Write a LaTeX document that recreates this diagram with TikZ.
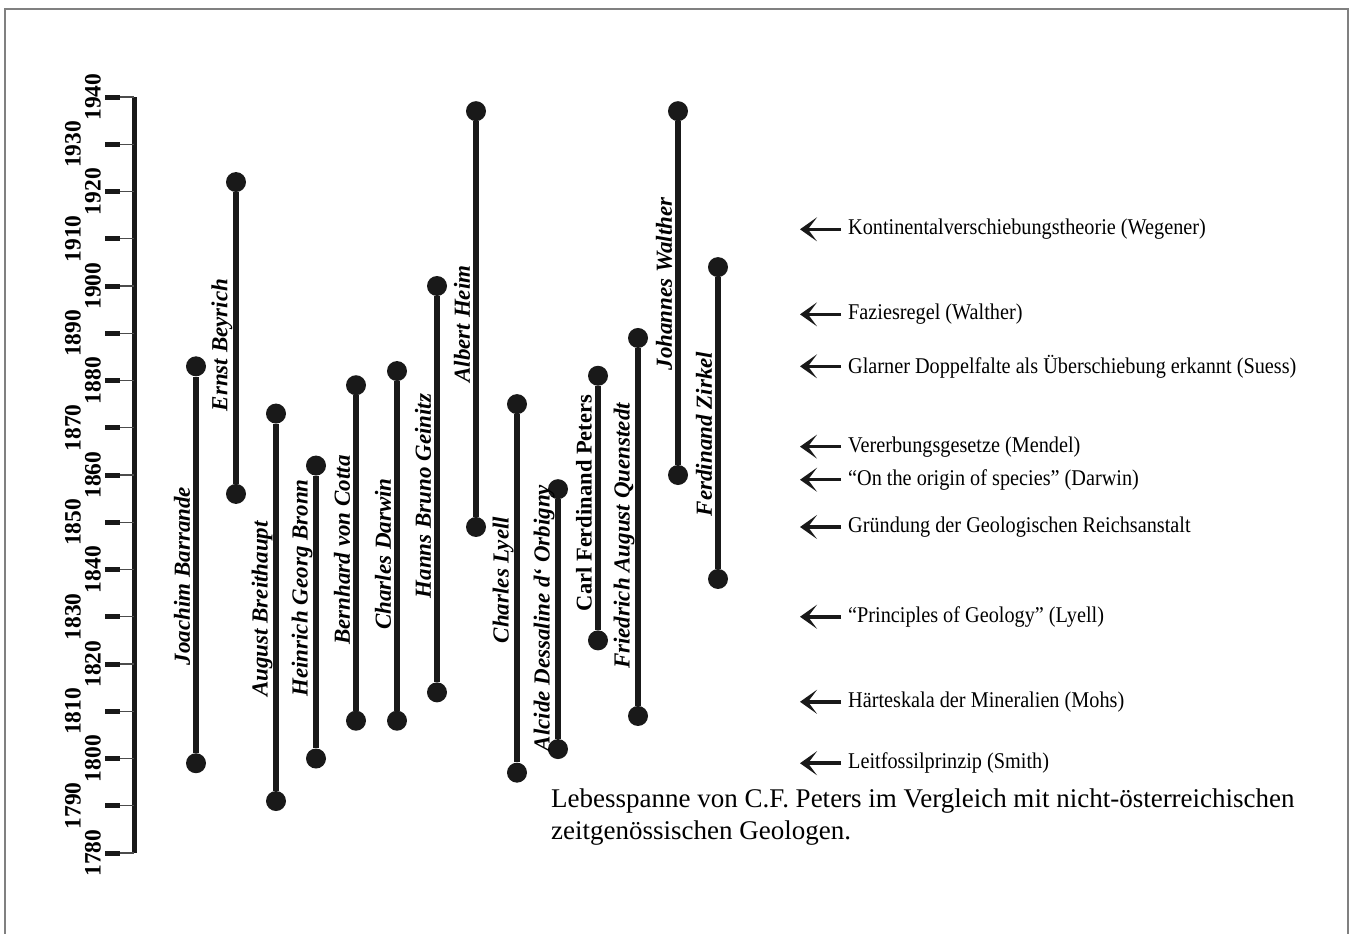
\documentclass[tikz,border=0pt]{standalone}
\usepackage{fontspec}
\setmainfont{Liberation Serif}
\usetikzlibrary{arrows.meta}
\newcommand{\yr}[1]{97+4.725*(1940-#1)}
\tikzstyle{frame}=[gray,line width=1.5pt]
\tikzstyle{axis}=[line width=5pt,black!90]
\tikzstyle{tickmark}=[line width=5pt,black!90]
\tikzstyle{tickline}=[line width=1.2pt,black!70]
\tikzstyle{yearlabel}=[rotate=90,inner sep=0pt,font=\fontsize{23.5}{23.5}\selectfont\bfseries]
\tikzstyle{dot}=[circle,fill=black!90,inner sep=0pt,minimum size=20pt]
\tikzstyle{life}=[line width=6pt,black!90]
\tikzstyle{nm}=[rotate=90,inner sep=0pt,font=\fontsize{23}{23}\selectfont\bfseries\itshape]
\tikzstyle{peters}=[rotate=90,inner sep=0pt,font=\fontsize{22.5}{22.5}\selectfont\bfseries]
\tikzstyle{event}=[anchor=west,xscale=0.9,inner sep=0pt,font=\fontsize{22.5}{22.5}\selectfont]
\tikzstyle{evarrow}=[line width=3.5pt,black!90,shorten <=7pt,-{Stealth[length=17pt,width=24pt,inset=9pt]}]
\tikzstyle{caption}=[anchor=north west,align=left,inner sep=0pt,font=\fontsize{27}{32}\selectfont]

\begin{document}
\begin{tikzpicture}[x=1pt,y=-1pt]
    \useasboundingbox (0,0) rectangle (1355,934);
    \draw[frame] (5,944) -- (5,9) -- (1348,9) -- (1348,944);

    % time axis
    \draw[axis] (134,{\yr{1940}}) -- (134,{\yr{1780}});
    \foreach \yy/\lx in {1780/93,1790/73,1800/93,1810/73,1820/93,1830/73,1840/93,1850/73,
                         1860/93,1870/73,1880/93,1890/73,1900/93,1910/73,1920/93,1930/73,1940/93}
    {
        \draw[tickline] (120,{\yr{\yy}}) -- (134,{\yr{\yy}});
        \draw[tickmark] (105,{\yr{\yy}}) -- (120,{\yr{\yy}});
        \node[yearlabel] (y\yy) at (\lx,{\yr{\yy}}) {\yy};
    }

    % lifespans
    \foreach \i/\x/\b/\d/\ly/\st/\who in {
        1/196/1799/1883/576/nm/Joachim Barrande,
        2/236/1856/1922/345/nm/Ernst Beyrich,
        3/276/1791/1873/609/nm/August Breithaupt,
        4/316/1800/1862/588/nm/Heinrich Georg Bronn,
        5/356/1808/1879/550/nm/Bernhard von Cotta,
        6/397/1808/1882/554/nm/Charles Darwin,
        7/437/1814/1900/496/nm/Hanns Bruno Geinitz,
        8/476/1849/1937/324/nm/Albert Heim,
        9/517/1797/1875/580/nm/Charles Lyell,
        10/558/1802/1857/618/nm/Alcide Dessaline d‘ Orbigny,
        11/598/1825/1881/503/peters/Carl Ferdinand Peters,
        12/638/1809/1889/536/nm/Friedrich August Quenstedt,
        13/678/1860/1937/284/nm/Johannes Walther,
        14/718/1838/1904/434/nm/Ferdinand Zirkel}
    {
        \node[dot] (b\i) at (\x,{\yr{\b}}) {};
        \node[dot] (d\i) at (\x,{\yr{\d}}) {};
        \draw[life] (b\i) -- (d\i);
        \node[\st] (n\i) at (\x-14,\ly) {\who};
    }

    % events
    \foreach \j/\yy/\what in {
        1/1912/Kontinentalverschiebungstheorie (Wegener),
        2/1894/Faziesregel (Walther),
        3/1883/Glarner Doppelfalte als Überschiebung erkannt (Suess),
        4/1866/Vererbungsgesetze (Mendel),
        5/1859/“On the origin of species” (Darwin),
        6/1849/Gründung der Geologischen Reichsanstalt,
        7/1830/“Principles of Geology” (Lyell),
        8/1812/Härteskala der Mineralien (Mohs),
        9/1799/Leitfossilprinzip (Smith)}
    {
        \coordinate (t\j) at (800,{\yr{\yy}});
        \node[event] (e\j) at (848,{\yr{\yy}}) {\what};
        \draw[evarrow] (e\j.west) -- (t\j);
    }

    \node[caption] (cap) at (551,789) {Lebesspanne von C.F. Peters im Vergleich mit nicht-österreichischen\\zeitgenössischen Geologen.};
\end{tikzpicture}
\end{document}
